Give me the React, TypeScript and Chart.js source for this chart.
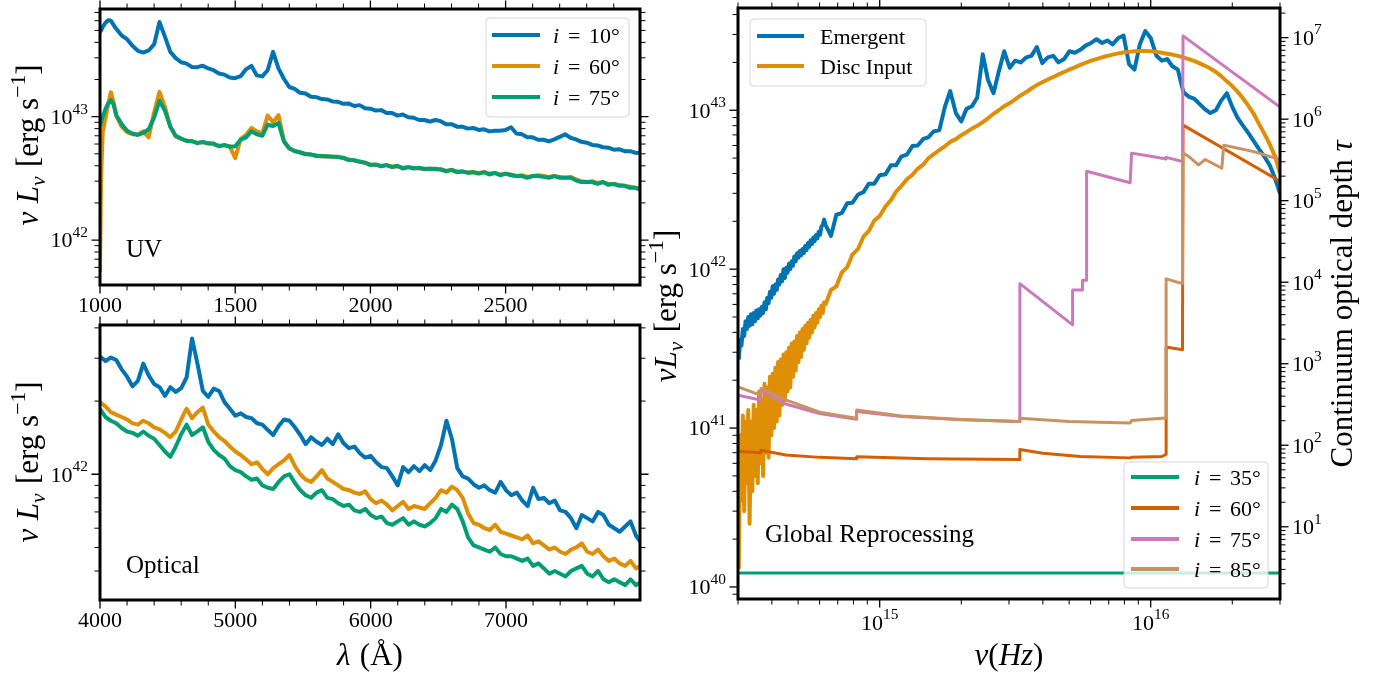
import React, { useEffect, useRef } from "react";
import { Chart, registerables } from "chart.js";

Chart.register(...registerables);

const SERIF = "'Liberation Serif', 'Times New Roman', Times, serif";
const PAGE_W = 1381;
const PAGE_H = 679;
const TICK_SIZE = 22;
const TITLE_SIZE = 31;

const C_BLUE = "#0173B2";
const C_ORANGE = "#DE8F05";
const C_GREEN = "#029E73";
const C_RED = "#D55E00";
const C_PINK = "#CC78BC";
const C_TAN = "#CA9161";

// ---------------- UV panel (wavelength in Å, nuLnu in 1e42 erg/s) ----------------
const UV_LAMBDA = [
  1000, 1004, 1010, 1020, 1030, 1040, 1050, 1060, 1080, 1100,
  1120, 1140, 1160, 1180, 1200, 1220, 1240, 1260, 1280, 1300,
  1320, 1340, 1360, 1380, 1400, 1420, 1440, 1460, 1480, 1500,
  1520, 1540, 1560, 1580, 1600, 1620, 1640, 1660, 1680, 1700,
  1720, 1740, 1760, 1780, 1800, 1820, 1840, 1860, 1880, 1900,
  1920, 1940, 1960, 1980, 2000, 2020, 2040, 2060, 2080, 2100,
  2120, 2140, 2160, 2180, 2200, 2220, 2240, 2260, 2280, 2300,
  2320, 2340, 2360, 2380, 2400, 2420, 2440, 2460, 2480, 2500,
  2520, 2540, 2560, 2580, 2600, 2620, 2640, 2660, 2680, 2700,
  2720, 2740, 2760, 2780, 2800, 2820, 2840, 2860, 2880, 2900,
  2920, 2940, 2960, 2980, 3000,
];
const UV_I10 = [
  48.5, 50.0, 53.5, 57.5, 60.5, 60.0, 55.5, 51.5, 45.5, 42.5,
  37.5, 34.2, 33.1, 34.4, 38.5, 58.5, 44.5, 33.5, 29.8, 27.6,
  26.9, 25.3, 25.2, 25.9, 24.6, 23.8, 22.4, 21.9, 20.8, 20.5,
  21.3, 24.2, 25.8, 21.6, 21.2, 23.8, 33.5, 24.6, 20.3, 17.4,
  16.8, 15.6, 15.4, 14.5, 14.4, 13.9, 13.8, 13.3, 13.2, 12.7,
  12.8, 12.2, 12.4, 11.7, 11.6, 11.2, 11.3, 10.7, 10.7, 10.2,
  10.4, 9.9, 9.8, 9.4, 9.4, 9.1, 9.4, 9.2, 8.7, 8.7,
  8.3, 8.3, 8.0, 8.1, 7.8, 7.9, 7.6, 7.7, 7.7, 7.8,
  8.2, 7.3, 7.2, 6.8, 6.8, 6.5, 6.5, 6.3, 6.55, 6.85,
  7.2, 6.75, 6.55, 6.25, 6.15, 5.9, 5.85, 5.65, 5.6, 5.4,
  5.45, 5.25, 5.25, 5.1, 5.05,
];
const UV_I60 = [
  0.55, 3.2, 7.5, 9.6, 12.5, 15.8, 13.2, 10.2, 8.3, 7.5,
  7.2, 7.2, 7.6, 6.8, 10.8, 15.9, 12.0, 8.3, 6.9, 6.6,
  6.4, 6.3, 6.15, 6.2, 6.1, 6.0, 5.8, 5.85, 5.75, 4.6,
  6.6, 7.1, 8.1, 7.6, 7.3, 10.2, 9.0, 10.3, 6.4, 5.5,
  5.3, 5.1, 5.0, 4.9, 4.85, 4.75, 4.8, 4.7, 4.75, 4.6,
  4.5, 4.4, 4.35, 4.2, 4.1, 4.05, 4.0, 4.05, 3.95, 3.95,
  3.85, 3.9, 3.85, 3.8, 3.8, 3.75, 3.8, 3.7, 3.65, 3.7,
  3.6, 3.6, 3.55, 3.55, 3.5, 3.55, 3.45, 3.5, 3.4, 3.45,
  3.4, 3.3, 3.35, 3.25, 3.3, 3.35, 3.3, 3.25, 3.3, 3.25,
  3.2, 3.25, 3.1, 3.0, 2.95, 3.0, 2.9, 2.95, 2.85, 2.85,
  2.8, 2.75, 2.7, 2.65, 2.6,
];
const UV_I75 = [
  8.4, 9.0, 10.0, 11.5, 12.8, 13.6, 12.6, 10.3, 8.7, 7.7,
  7.3, 7.1, 7.4, 7.9, 9.8, 13.4, 11.2, 8.3, 7.0, 6.65,
  6.35, 6.35, 6.1, 6.25, 6.05, 6.05, 5.75, 5.9, 5.7, 5.75,
  6.5, 6.8, 7.6, 7.2, 7.0, 8.6, 8.4, 8.9, 6.3, 5.55,
  5.25, 5.15, 4.95, 4.95, 4.8, 4.8, 4.75, 4.75, 4.7, 4.65,
  4.45, 4.45, 4.3, 4.25, 4.05, 4.1, 3.95, 4.05, 3.9, 4.0,
  3.8, 3.9, 3.8, 3.85, 3.75, 3.8, 3.75, 3.75, 3.6, 3.7,
  3.55, 3.6, 3.5, 3.55, 3.45, 3.55, 3.4, 3.5, 3.35, 3.45,
  3.35, 3.3, 3.3, 3.2, 3.3, 3.3, 3.25, 3.2, 3.3, 3.2,
  3.2, 3.2, 3.05, 2.95, 2.95, 2.95, 2.85, 2.95, 2.8, 2.85,
  2.75, 2.75, 2.65, 2.65, 2.55,
];
const UV_XTICKS = [1000, 1500, 2000, 2500];

// ---------------- Optical panel ----------------
const OPT_LAMBDA = [
  4000, 4040, 4080, 4120, 4160, 4200, 4240, 4280, 4320, 4360,
  4400, 4440, 4480, 4520, 4560, 4600, 4640, 4680, 4720, 4760,
  4800, 4840, 4880, 4920, 4960, 5000, 5040, 5080, 5120, 5160,
  5200, 5240, 5280, 5320, 5360, 5400, 5440, 5480, 5520, 5560,
  5600, 5640, 5680, 5720, 5760, 5800, 5840, 5880, 5920, 5960,
  6000, 6040, 6080, 6120, 6160, 6200, 6240, 6280, 6320, 6360,
  6400, 6440, 6480, 6520, 6560, 6600, 6640, 6680, 6720, 6760,
  6800, 6840, 6880, 6920, 6960, 7000, 7040, 7080, 7120, 7160,
  7200, 7240, 7280, 7320, 7360, 7400, 7440, 7480, 7520, 7560,
  7600, 7640, 7680, 7720, 7760, 7800, 7840, 7880, 7920, 7960,
  8000,
];
const OPT_I10 = [
  3.05, 2.92, 3.02, 2.95, 2.7, 2.52, 2.3, 2.42, 2.85, 2.55,
  2.35, 2.28, 2.1, 2.28, 2.18, 2.26, 2.5, 3.62, 2.85, 2.2,
  2.08, 2.25, 2.2, 1.98, 1.86, 1.74, 1.78, 1.72, 1.7, 1.62,
  1.6, 1.52, 1.45, 1.58, 1.68, 1.66, 1.56, 1.45, 1.33, 1.42,
  1.36, 1.32, 1.4, 1.33, 1.46, 1.34, 1.28, 1.3, 1.22, 1.17,
  1.19, 1.12, 1.07, 1.06, 0.98, 0.9, 1.07, 1.02, 1.08, 1.03,
  1.09, 1.04, 1.14, 1.32, 1.66, 1.4, 1.06, 0.98, 0.96, 0.91,
  0.88, 0.9, 0.86, 0.84, 0.93, 0.86, 0.82, 0.84, 0.78, 0.74,
  0.88, 0.79, 0.8, 0.76, 0.78, 0.71, 0.7, 0.66, 0.6, 0.68,
  0.66, 0.64, 0.7, 0.68, 0.62, 0.6, 0.58, 0.61, 0.64, 0.56,
  0.52,
];
const OPT_I60 = [
  1.98, 1.9, 1.8, 1.76, 1.72, 1.68, 1.62, 1.6, 1.66, 1.62,
  1.56, 1.53, 1.48, 1.42, 1.5, 1.68, 1.86, 1.7, 1.8, 1.88,
  1.6, 1.5, 1.42, 1.37, 1.3, 1.24, 1.2, 1.15, 1.1, 1.12,
  1.05, 1.0, 1.06, 1.1, 1.14, 1.2, 1.08, 1.0, 0.95, 0.93,
  0.98, 1.04, 0.96, 0.93, 0.9, 0.87, 0.86, 0.84, 0.83, 0.85,
  0.79, 0.76, 0.78, 0.75, 0.71, 0.74, 0.77, 0.72, 0.74, 0.73,
  0.72, 0.76, 0.8, 0.86, 0.84, 0.89, 0.86, 0.8, 0.69, 0.63,
  0.62, 0.6, 0.59, 0.62, 0.58, 0.57, 0.56, 0.55, 0.54, 0.56,
  0.52, 0.53, 0.51, 0.49, 0.5, 0.48, 0.47, 0.49, 0.5, 0.52,
  0.48, 0.47, 0.49, 0.46, 0.44, 0.45, 0.43, 0.42, 0.44, 0.41,
  0.42,
];
const OPT_I75 = [
  1.86, 1.72, 1.66, 1.62, 1.55, 1.5, 1.48, 1.44, 1.5, 1.44,
  1.4, 1.32, 1.24, 1.18, 1.3, 1.46, 1.6, 1.45, 1.5, 1.56,
  1.36, 1.26, 1.2, 1.16, 1.08, 1.04, 1.02, 0.98, 0.95, 0.96,
  0.9, 0.88, 0.87, 0.93, 0.98, 1.0, 0.92, 0.86, 0.82, 0.8,
  0.84, 0.86, 0.8, 0.79, 0.76, 0.74, 0.75, 0.71, 0.7, 0.72,
  0.68, 0.66, 0.67, 0.63, 0.62, 0.64, 0.66, 0.62, 0.64, 0.62,
  0.61, 0.63, 0.66, 0.72, 0.7, 0.75, 0.72, 0.64, 0.55, 0.51,
  0.5, 0.49, 0.48, 0.5, 0.47, 0.46, 0.46, 0.45, 0.44, 0.45,
  0.42, 0.43, 0.41, 0.39, 0.4, 0.39, 0.38, 0.4, 0.41, 0.42,
  0.39, 0.38, 0.4, 0.37, 0.36, 0.37, 0.36, 0.35, 0.37, 0.35,
  0.36,
];
const OPT_XTICKS = [4000, 5000, 6000, 7000];

// ---------------- Global reprocessing panel (frequency in Hz) ----------------
const NU = [
  // dense low-frequency part
  3.020e14, 3.055e14, 3.090e14, 3.126e14, 3.162e14, 3.199e14, 3.236e14, 3.273e14, 3.311e14, 3.350e14,
  3.388e14, 3.428e14, 3.467e14, 3.508e14, 3.548e14, 3.589e14, 3.631e14, 3.673e14, 3.715e14, 3.758e14,
  3.802e14, 3.846e14, 3.890e14, 3.936e14, 3.981e14, 4.027e14, 4.074e14, 4.121e14, 4.169e14, 4.217e14,
  4.266e14, 4.315e14, 4.365e14, 4.416e14, 4.467e14, 4.519e14, 4.571e14, 4.624e14, 4.677e14, 4.732e14,
  4.786e14, 4.842e14, 4.898e14, 4.955e14, 5.012e14, 5.070e14, 5.129e14, 5.188e14, 5.248e14, 5.309e14,
  5.370e14, 5.433e14, 5.495e14, 5.559e14, 5.623e14, 5.689e14, 5.754e14, 5.821e14, 5.888e14, 5.957e14,
  6.026e14, 6.095e14, 6.166e14, 6.237e14,
  // coarser part
  6.31e14, 6.61e14, 6.92e14, 7.24e14, 7.59e14, 7.94e14, 8.32e14, 8.71e14, 9.12e14, 9.55e14,
  1.00e15, 1.05e15, 1.10e15, 1.15e15, 1.20e15, 1.26e15, 1.32e15, 1.38e15, 1.45e15, 1.51e15,
  1.58e15, 1.66e15, 1.74e15, 1.82e15, 1.91e15, 2.00e15, 2.09e15, 2.19e15, 2.29e15, 2.40e15,
  2.51e15, 2.63e15, 2.75e15, 2.88e15, 3.02e15, 3.16e15, 3.31e15, 3.47e15, 3.63e15, 3.80e15,
  3.98e15, 4.17e15, 4.37e15, 4.57e15, 4.79e15, 5.01e15, 5.25e15, 5.50e15, 5.75e15, 6.03e15,
  6.31e15, 6.61e15, 6.92e15, 7.24e15, 7.59e15, 7.94e15, 8.32e15, 8.71e15, 9.12e15, 9.55e15,
  1.00e16, 1.05e16, 1.10e16, 1.15e16, 1.20e16, 1.26e16, 1.32e16, 1.38e16, 1.45e16, 1.51e16,
  1.58e16, 1.66e16, 1.74e16, 1.82e16, 1.91e16, 2.00e16, 2.09e16, 2.19e16, 2.29e16, 2.40e16,
  2.51e16, 2.63e16, 2.75e16, 2.88e16, 3.00e16,
];
// nuLnu in 1e42 erg/s
const EMERGENT = [
  0.27, 0.36, 0.33, 0.42, 0.38, 0.47, 0.42, 0.50, 0.44, 0.52,
  0.45, 0.53, 0.47, 0.55, 0.49, 0.56, 0.51, 0.58, 0.53, 0.62,
  0.56, 0.66, 0.61, 0.72, 0.66, 0.78, 0.70, 0.80, 0.74, 0.86,
  0.80, 0.92, 0.84, 1.00, 0.88, 1.02, 0.95, 1.08, 1.00, 1.12,
  1.05, 1.20, 1.12, 1.26, 1.18, 1.30, 1.22, 1.34, 1.26, 1.40,
  1.32, 1.46, 1.38, 1.52, 1.44, 1.58, 1.50, 1.64, 1.56, 1.72,
  1.65, 1.85, 1.90, 2.05,
  1.90, 1.62, 2.2, 2.25, 2.6, 2.62, 2.95, 3.05, 3.45, 3.45,
  3.9, 3.95, 4.5, 4.5, 5.1, 5.25, 5.95, 6.0, 6.6, 6.75,
  7.35, 7.5, 10.5, 13.2, 9.6, 8.5, 10.2, 10.6, 12.0, 22.5,
  15.5, 12.8, 17.5, 23.5, 18.5, 20.5, 20.0, 21.5, 22.0, 25.0,
  19.8, 21.5, 22.0, 20.0, 21.0, 23.5, 23.0, 24.0, 25.5, 26.5,
  28.0, 26.5, 27.5, 26.0, 28.5, 29.5, 19.5, 18.0, 26.0, 31.5,
  28.5, 22.0, 20.5, 21.0, 19.0, 18.0, 13.0, 12.2, 11.8, 11.0,
  10.2, 9.6, 10.0, 11.5, 12.8, 10.5, 9.0, 8.0, 7.2, 6.4,
  5.7, 5.1, 4.5, 3.7, 3.0,
];
const DISC_INPUT = [
  0.013, 0.09, 0.035, 0.12, 0.03, 0.11, 0.045, 0.13, 0.025, 0.11,
  0.04, 0.14, 0.05, 0.13, 0.045, 0.17, 0.06, 0.15, 0.05, 0.19,
  0.07, 0.18, 0.065, 0.21, 0.09, 0.22, 0.10, 0.24, 0.11, 0.26,
  0.12, 0.27, 0.14, 0.29, 0.15, 0.30, 0.17, 0.32, 0.18, 0.34,
  0.21, 0.35, 0.23, 0.38, 0.26, 0.40, 0.28, 0.42, 0.31, 0.44,
  0.34, 0.46, 0.37, 0.48, 0.40, 0.51, 0.43, 0.53, 0.46, 0.56,
  0.50, 0.59, 0.53, 0.62,
  0.60, 0.74, 0.78, 0.95, 1.03, 1.24, 1.34, 1.60, 1.74, 2.02,
  2.16, 2.48, 2.72, 3.08, 3.32, 3.68, 3.92, 4.28, 4.56, 4.98,
  5.28, 5.62, 5.93, 6.32, 6.58, 6.97, 7.28, 7.67, 7.98, 8.42,
  8.9, 9.5, 10.0, 10.6, 11.1, 11.7, 12.4, 13.0, 13.7, 14.4,
  15.0, 15.6, 16.2, 16.8, 17.4, 18.0, 18.6, 19.3, 19.9, 20.5,
  21.0, 21.5, 22.0, 22.4, 22.8, 23.1, 23.3, 23.5, 23.6, 23.6,
  23.5, 23.3, 23.0, 22.7, 22.4, 22.0, 21.5, 21.0, 20.4, 19.8,
  19.1, 18.3, 17.4, 16.4, 15.2, 14.2, 13.1, 11.9, 10.7, 9.5,
  8.2, 7.1, 6.1, 5.1, 4.0,
];
// continuum optical depth (right axis)
const TAU35_NU = [3.0e14, 3.0e16];
const TAU35 = [2.7, 2.7];
const TAU60_NU = [
  3.0e14, 3.63e14, 3.65e14, 4.5e14, 6.0e14, 8.2e14, 8.22e14, 1.5e15, 3.27e15, 3.29e15,
  4.0e15, 5.5e15, 8.4e15, 8.5e15, 1.1e16, 1.14e16, 1.14e16, 1.31e16, 1.316e16, 3.0e16,
];
const TAU60 = [
  84.5, 80.7, 86.9, 76, 71, 68.3, 72.2, 68.5, 67, 88.5,
  80, 73, 70, 71, 73, 77, 1600, 1480, 8.45e5, 1.73e5,
];
const TAU75_NU = [
  3.0e14, 3.63e14, 3.65e14, 4.5e14, 6.0e14, 8.2e14, 8.22e14, 1.2e15, 2.0e15, 3.27e15,
  3.29e15, 5.15e15, 5.15e15, 5.6e15, 5.6e15, 5.8e15, 5.8e15, 8.4e15, 8.5e15, 1.0e16,
  1.14e16, 1.14e16, 1.31e16, 1.316e16, 3.0e16,
];
const TAU75 = [
  412, 359, 474, 320, 245, 209, 259, 225, 205, 195,
  9600, 3000, 8000, 8000, 10600, 10600, 2.3e5, 1.66e5, 3.83e5, 3.5e5,
  3.25e5, 3.4e5, 3.03e5, 1.05e7, 1.41e6,
];
const TAU85_NU = [
  3.0e14, 3.63e14, 3.65e14, 4.5e14, 6.0e14, 8.2e14, 8.22e14, 1.2e15, 2.0e15, 3.27e15,
  3.29e15, 5.0e15, 8.4e15, 8.5e15, 1.1e16, 1.14e16, 1.14e16, 1.31e16, 1.316e16, 1.38e16,
  1.5e16, 1.59e16, 1.83e16, 1.86e16, 2.1e16, 2.4e16, 3.0e16,
];
const TAU85 = [
  521, 412, 497, 360, 255, 215, 271, 228, 207, 195,
  215, 195, 187, 201, 214, 216, 1.1e4, 9.6e3, 3.83e5, 3.5e5,
  2.75e5, 3.2e5, 2.5e5, 4.8e5, 4.4e5, 4.0e5, 3.2e5,
];

const UNIT = 1e42;

// ---------------- text helpers ----------------
type Seg = { t: string; it?: boolean; k?: number; dy?: number; padL?: number; padR?: number };

function segFont(s: Seg, size: number) {
  return `${s.it ? "italic " : ""}${(size * (s.k || 1)).toFixed(2)}px ${SERIF}`;
}
function richWidth(ctx: CanvasRenderingContext2D, segs: Seg[], size: number) {
  let w = 0;
  for (const s of segs) {
    ctx.font = segFont(s, size);
    w += ctx.measureText(s.t).width + ((s.padL || 0) + (s.padR || 0)) * size;
  }
  return w;
}
function drawRich(
  ctx: CanvasRenderingContext2D, segs: Seg[], size: number,
  x: number, y: number, align: "left" | "center" | "right", rot = 0
) {
  ctx.save();
  ctx.translate(x, y);
  if (rot) ctx.rotate(rot);
  const total = richWidth(ctx, segs, size);
  let cx = align === "left" ? 0 : align === "center" ? -total / 2 : -total;
  ctx.textAlign = "left";
  ctx.textBaseline = "alphabetic";
  ctx.fillStyle = "#000";
  for (const s of segs) {
    ctx.font = segFont(s, size);
    cx += (s.padL || 0) * size;
    ctx.fillText(s.t, cx, (s.dy || 0) * size);
    cx += ctx.measureText(s.t).width + (s.padR || 0) * size;
  }
  ctx.restore();
}
const pow10 = (e: number): Seg[] => [{ t: "10" }, { t: String(e), k: 0.7, dy: -0.48 }];
const incl = (deg: string): Seg[] => [
  { t: "i", it: true },
  { t: "=", padL: 0.4, padR: 0.4 },
  { t: deg + "°" },
];

// ---------------- decoration plugin (frame, ticks, labels, legends, text) ----------------
type AxisDeco = {
  id: string; kind: "log" | "lin"; sides: string[];
  majorStep?: number; minorStep?: number; labelSide?: "left" | "right" | "bottom";
};
type LegendRow = { y: number; color: string; segs: Seg[] };
type LegendDeco = { box: number[]; lineX: number[]; textX: number; rows: LegendRow[] };
type TextDeco = { segs: Seg[]; size: number; x: number; y: number; align: "left" | "center"; rot?: number };
type Deco = { axes: AxisDeco[]; legends: LegendDeco[]; texts: TextDeco[] };

function tickList(sc: any, ax: AxisDeco) {
  const out: { v: number; major: boolean; e: number }[] = [];
  if (ax.kind === "log") {
    const e0 = Math.floor(Math.log10(sc.min));
    const e1 = Math.ceil(Math.log10(sc.max));
    for (let e = e0; e <= e1; e++) {
      for (let k = 1; k <= 9; k++) {
        const v = k * Math.pow(10, e);
        if (v >= sc.min * 0.9999 && v <= sc.max * 1.0001) out.push({ v, major: k === 1, e });
      }
    }
  } else {
    const step = ax.minorStep as number;
    const major = ax.majorStep as number;
    const start = Math.ceil(sc.min / step) * step;
    for (let v = start; v <= sc.max + 1e-6; v += step) {
      const r = v / major;
      out.push({ v, major: Math.abs(r - Math.round(r)) < 1e-6, e: 0 });
    }
  }
  return out;
}

function makeDecor(cfg: Deco) {
  return {
    id: "decor",
    afterDraw(chart: any) {
      const ctx: CanvasRenderingContext2D = chart.ctx;
      const a = chart.chartArea;
      ctx.save();
      ctx.strokeStyle = "#000";
      for (const ax of cfg.axes) {
        const sc = chart.scales[ax.id];
        for (const tk of tickList(sc, ax)) {
          const p = sc.getPixelForValue(tk.v);
          const len = (tk.major ? 7 : 4) + 1.5;
          ctx.lineWidth = tk.major ? 1.3 : 1;
          ctx.beginPath();
          for (const side of ax.sides) {
            if (side === "bottom") { ctx.moveTo(p, a.bottom); ctx.lineTo(p, a.bottom + len); }
            if (side === "top") { ctx.moveTo(p, a.top); ctx.lineTo(p, a.top - len); }
            if (side === "left") { ctx.moveTo(a.left, p); ctx.lineTo(a.left - len, p); }
            if (side === "right") { ctx.moveTo(a.right, p); ctx.lineTo(a.right + len, p); }
          }
          ctx.stroke();
          if (tk.major && ax.labelSide) {
            const segs = pow10(tk.e);
            if (ax.labelSide === "left") drawRich(ctx, segs, TICK_SIZE, a.left - 12, p + 7.4, "right");
            if (ax.labelSide === "right") drawRich(ctx, segs, TICK_SIZE, a.right + 12, p + 7.4, "left");
            if (ax.labelSide === "bottom") drawRich(ctx, segs, TICK_SIZE, p, a.bottom + 30.5, "center");
          }
        }
      }
      ctx.lineWidth = 3;
      ctx.strokeRect(a.left, a.top, a.right - a.left, a.bottom - a.top);

      for (const t of cfg.texts) drawRich(ctx, t.segs, t.size, t.x, t.y, t.align, t.rot || 0);

      for (const lg of cfg.legends) {
        const [bx, by, bw, bh] = lg.box;
        ctx.beginPath();
        (ctx as any).roundRect(bx, by, bw, bh, 4);
        ctx.fillStyle = "rgba(255,255,255,0.8)";
        ctx.fill();
        ctx.lineWidth = 1;
        ctx.strokeStyle = "rgba(204,204,204,0.8)";
        ctx.stroke();
        for (const r of lg.rows) {
          ctx.strokeStyle = r.color;
          ctx.lineWidth = 3.8;
          ctx.beginPath();
          ctx.moveTo(lg.lineX[0], r.y);
          ctx.lineTo(lg.lineX[1], r.y);
          ctx.stroke();
          drawRich(ctx, r.segs, TICK_SIZE, lg.textX, r.y + 7.5, "left");
        }
      }
      ctx.restore();
    },
  };
}

// ---------------- chart config builders ----------------
function lineDs(label: string, xs: number[], ys: number[], unit: number, color: string,
  width: number, order: number, yAxisID = "y") {
  return {
    label,
    data: xs.map((x, i) => ({ x, y: ys[i] * unit })),
    borderColor: color,
    backgroundColor: color,
    borderWidth: width,
    pointRadius: 0,
    pointHoverRadius: 0,
    fill: false,
    tension: 0,
    order,
    yAxisID,
    borderJoinStyle: "round",
    borderCapStyle: "butt",
  };
}

const plainAxis = { grid: { display: false, drawTicks: false }, border: { display: false } };

function padFor(l: number, t: number, r: number, b: number, leftW: number, rightW: number, bottomH: number) {
  return { left: l - leftW, top: t, right: PAGE_W - r - rightW, bottom: PAGE_H - b - bottomH };
}

function linX(min: number, max: number, ticks: number[]) {
  return {
    type: "linear", position: "bottom", min, max, ...plainAxis,
    ticks: {
      autoSkip: false, maxRotation: 0, minRotation: 0, padding: 8, color: "#000",
      font: { family: SERIF, size: TICK_SIZE },
      callback: (v: any) => String(v),
    },
    afterBuildTicks: (s: any) => { s.ticks = ticks.map((v) => ({ value: v })); },
    afterFit: (s: any) => { s.height = 40; },
  };
}
function logAxis(pos: string, min: number, max: number) {
  const horiz = pos === "bottom";
  return {
    type: "logarithmic", position: pos, min, max, ...plainAxis,
    ticks: { display: false },
    afterFit: (s: any) => { if (horiz) s.height = 40; else s.width = 40; },
  };
}

const ylabelLeft: Seg[] = [
  { t: "ν", it: true },
  { t: "L", it: true, padL: 0.28 },
  { t: "ν", it: true, k: 0.7, dy: 0.22 },
  { t: "[erg s", padL: 0.3 },
  { t: "−1", k: 0.7, dy: -0.42 },
  { t: "]" },
];

const baseOpts = {
  responsive: false, animation: false, devicePixelRatio: 1, events: [],
  plugins: { legend: { display: false }, tooltip: { enabled: false } },
};

function uvConfig() {
  const deco: Deco = {
    axes: [
      { id: "x", kind: "lin", sides: ["bottom", "top"], majorStep: 500, minorStep: 100 },
      { id: "y", kind: "log", sides: ["left", "right"], labelSide: "left" },
    ],
    texts: [
      { segs: ylabelLeft, size: TITLE_SIZE, x: 38, y: 145, align: "center", rot: -Math.PI / 2 },
      { segs: [{ t: "UV" }], size: 25, x: 126, y: 257, align: "left" },
    ],
    legends: [
      {
        box: [486, 18, 143, 99], lineX: [492, 540], textX: 553,
        rows: [
          { y: 35, color: C_BLUE, segs: incl("10") },
          { y: 66, color: C_ORANGE, segs: incl("60") },
          { y: 97, color: C_GREEN, segs: incl("75") },
        ],
      },
    ],
  };
  return {
    type: "line",
    data: {
      datasets: [
        lineDs("i = 10°", UV_LAMBDA, UV_I10, UNIT, C_BLUE, 4, 2),
        lineDs("i = 60°", UV_LAMBDA, UV_I60, UNIT, C_ORANGE, 4, 1),
        lineDs("i = 75°", UV_LAMBDA, UV_I75, UNIT, C_GREEN, 4, 0),
      ],
    },
    options: {
      ...baseOpts,
      layout: { padding: padFor(100, 9, 640, 285, 40, 0, 40) },
      scales: {
        x: linX(1000, 2997, UV_XTICKS),
        y: logAxis("left", 4.32e41, 7.46e43),
      },
    },
    plugins: [makeDecor(deco)],
  };
}

function optConfig() {
  const deco: Deco = {
    axes: [
      { id: "x", kind: "lin", sides: ["bottom", "top"], majorStep: 1000, minorStep: 200 },
      { id: "y", kind: "log", sides: ["left", "right"], labelSide: "left" },
    ],
    texts: [
      { segs: ylabelLeft, size: TITLE_SIZE, x: 38, y: 462, align: "center", rot: -Math.PI / 2 },
      { segs: [{ t: "λ", it: true }, { t: "(Å)", padL: 0.3 }], size: TITLE_SIZE, x: 370, y: 665, align: "center" },
      { segs: [{ t: "Optical" }], size: 25, x: 126, y: 573, align: "left" },
    ],
    legends: [],
  };
  return {
    type: "line",
    data: {
      datasets: [
        lineDs("i = 10°", OPT_LAMBDA, OPT_I10, UNIT, C_BLUE, 4, 2),
        lineDs("i = 60°", OPT_LAMBDA, OPT_I60, UNIT, C_ORANGE, 4, 1),
        lineDs("i = 75°", OPT_LAMBDA, OPT_I75, UNIT, C_GREEN, 4, 0),
      ],
    },
    options: {
      ...baseOpts,
      layout: { padding: padFor(100, 325, 640, 600, 40, 0, 40) },
      scales: {
        x: linX(4000, 7990, OPT_XTICKS),
        y: logAxis("left", 3.04e41, 4.11e42),
      },
    },
    plugins: [makeDecor(deco)],
  };
}

function sedConfig() {
  const deco: Deco = {
    axes: [
      { id: "x", kind: "log", sides: ["bottom", "top"], labelSide: "bottom" },
      { id: "y", kind: "log", sides: ["left"], labelSide: "left" },
      { id: "y2", kind: "log", sides: ["right"], labelSide: "right" },
    ],
    texts: [
      {
        segs: [
          { t: "ν", it: true }, { t: "L", it: true }, { t: "ν", it: true, k: 0.7, dy: 0.22 },
          { t: "[erg s", padL: 0.3 }, { t: "−1", k: 0.7, dy: -0.42 }, { t: "]" },
        ],
        size: TITLE_SIZE, x: 676, y: 306, align: "center", rot: -Math.PI / 2,
      },
      {
        segs: [{ t: "Continuum optical depth " }, { t: "τ", it: true }],
        size: TITLE_SIZE, x: 1352, y: 304, align: "center", rot: -Math.PI / 2,
      },
      {
        segs: [{ t: "ν", it: true }, { t: "(" }, { t: "Hz", it: true }, { t: ")" }],
        size: TITLE_SIZE, x: 1009, y: 665, align: "center",
      },
      { segs: [{ t: "Global Reprocessing" }], size: 25, x: 765, y: 542, align: "left" },
    ],
    legends: [
      {
        box: [750, 19, 176, 67], lineX: [757, 804], textX: 820,
        rows: [
          { y: 36, color: C_BLUE, segs: [{ t: "Emergent" }] },
          { y: 66, color: C_ORANGE, segs: [{ t: "Disc Input" }] },
        ],
      },
      {
        box: [1124, 462, 144, 126], lineX: [1131, 1179], textX: 1194,
        rows: [
          { y: 477, color: C_GREEN, segs: incl("35") },
          { y: 508, color: C_RED, segs: incl("60") },
          { y: 539, color: C_PINK, segs: incl("75") },
          { y: 569, color: C_TAN, segs: incl("85") },
        ],
      },
    ],
  };
  return {
    type: "line",
    data: {
      datasets: [
        lineDs("Emergent", NU, EMERGENT, UNIT, C_BLUE, 4, 5),
        lineDs("Disc Input", NU, DISC_INPUT, UNIT, C_ORANGE, 4, 4),
        lineDs("i = 35°", TAU35_NU, TAU35, 1, C_GREEN, 3, 3, "y2"),
        lineDs("i = 60°", TAU60_NU, TAU60, 1, C_RED, 3, 2, "y2"),
        lineDs("i = 75°", TAU75_NU, TAU75, 1, C_PINK, 3, 1, "y2"),
        lineDs("i = 85°", TAU85_NU, TAU85, 1, C_TAN, 3, 0, "y2"),
      ],
    },
    options: {
      ...baseOpts,
      layout: { padding: padFor(738, 8, 1280, 599, 40, 40, 40) },
      scales: {
        x: logAxis("bottom", 3e14, 3e16),
        y: logAxis("left", 8.4e39, 4.4e43),
        y2: logAxis("right", 1.3, 2.31e7),
      },
    },
    plugins: [makeDecor(deco)],
  };
}

export default function App() {
  const uvRef = useRef<HTMLCanvasElement>(null);
  const optRef = useRef<HTMLCanvasElement>(null);
  const sedRef = useRef<HTMLCanvasElement>(null);

  useEffect(() => {
    const charts = [
      new Chart(uvRef.current as HTMLCanvasElement, uvConfig() as any),
      new Chart(optRef.current as HTMLCanvasElement, optConfig() as any),
      new Chart(sedRef.current as HTMLCanvasElement, sedConfig() as any),
    ];
    return () => charts.forEach((c) => c.destroy());
  }, []);

  const cs: React.CSSProperties = { position: "absolute", left: 0, top: 0, width: PAGE_W, height: PAGE_H };
  return (
    <div style={{ position: "absolute", left: 0, top: 0, width: PAGE_W, height: PAGE_H, background: "#fff", overflow: "hidden" }}>
      <canvas ref={uvRef} width={PAGE_W} height={PAGE_H} style={cs} />
      <canvas ref={optRef} width={PAGE_W} height={PAGE_H} style={cs} />
      <canvas ref={sedRef} width={PAGE_W} height={PAGE_H} style={cs} />
    </div>
  );
}
